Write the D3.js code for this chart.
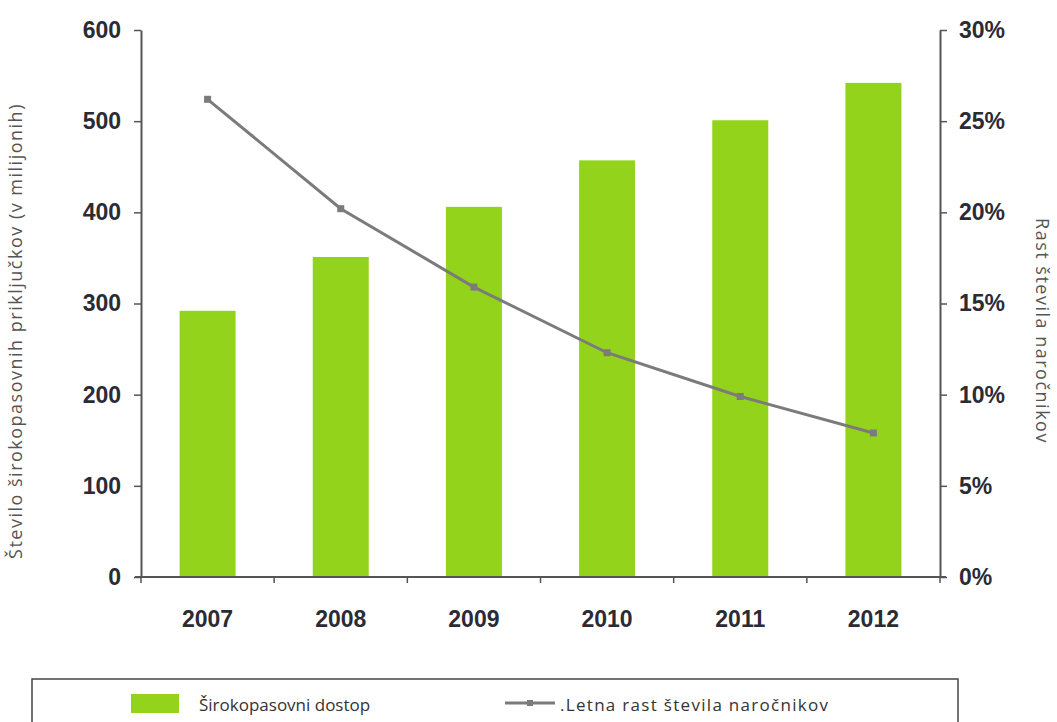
<!DOCTYPE html>
<html>
<head>
<meta charset="utf-8">
<script src="https://cdn.jsdelivr.net/npm/d3@7"></script>
<style>
  body { margin: 0; background: #fff; }
  .tick text { font-family: "Liberation Sans", Arial, sans-serif; font-weight: bold; font-size: 23px; fill: #2b2b36; }
</style>
</head>
<body>
<svg id="chart" width="1057" height="722"></svg>
<script>
const years = ["2007", "2008", "2009", "2010", "2011", "2012"];
const subscribers = [292, 351, 406, 457, 501, 542];
const growth = [26.2, 20.2, 15.9, 12.3, 9.9, 7.9];
const leftTicks = [0, 100, 200, 300, 400, 500, 600];
const rightTicks = [0, 5, 10, 15, 20, 25, 30];

const svg = d3.select("#chart");
const margin = { left: 141, right: 940, top: 30, bottom: 577 };

const xOuter = d3.scaleBand().domain(years).range([margin.left, margin.right]);
const yLeft = d3.scaleLinear().domain([0, 600]).range([margin.bottom, margin.top]);
const yRight = d3.scaleLinear().domain([0, 30]).range([margin.bottom, margin.top]);

// bars
svg.append("g")
  .selectAll("rect")
  .data(years)
  .join("rect")
  .attr("x", (d) => xOuter(d) + (xOuter.bandwidth() - 56) / 2)
  .attr("width", 56)
  .attr("y", (d, i) => yLeft(subscribers[i]))
  .attr("height", (d, i) => yLeft(0) - yLeft(subscribers[i]))
  .attr("fill", "#93d31b");

// axes
const axisColor = "#555";
const styleAxis = (g) => {
  g.select(".domain").attr("stroke", axisColor).attr("stroke-width", 2);
  g.selectAll(".tick line").attr("stroke", axisColor).attr("stroke-width", 1.5);
};

svg.append("g")
  .attr("transform", `translate(${margin.left},0)`)
  .call(d3.axisLeft(yLeft).tickValues(leftTicks).tickSize(7).tickSizeOuter(0).tickPadding(13))
  .call(styleAxis);

svg.append("g")
  .attr("transform", `translate(${margin.right},0)`)
  .call(d3.axisRight(yRight).tickValues(rightTicks).tickSize(7).tickSizeOuter(0).tickPadding(12)
    .tickFormat((d) => d + "%"))
  .call(styleAxis);

const boundaries = years.map((d) => xOuter(d)).concat([margin.right]);
const bottom = svg.append("g").attr("transform", `translate(0,${margin.bottom})`);
bottom.append("line")
  .attr("x1", margin.left - 6).attr("x2", margin.right + 6)
  .attr("stroke", axisColor).attr("stroke-width", 2);
bottom.selectAll("line.tk")
  .data(boundaries)
  .join("line")
  .attr("class", "tk")
  .attr("x1", (d) => d).attr("x2", (d) => d)
  .attr("y1", 0).attr("y2", 6)
  .attr("stroke", axisColor).attr("stroke-width", 1.5);
bottom.selectAll("text")
  .data(years)
  .join("text")
  .attr("x", (d) => xOuter(d) + xOuter.bandwidth() / 2)
  .attr("y", 50)
  .attr("text-anchor", "middle")
  .style("font-family", "'Liberation Sans', Arial, sans-serif")
  .style("font-weight", "bold")
  .style("font-size", "23px")
  .style("fill", "#2b2b36")
  .text((d) => d);

// growth line
const line = d3.line()
  .x((d, i) => xOuter(years[i]) + xOuter.bandwidth() / 2)
  .y((d) => yRight(d));
svg.append("path")
  .datum(growth)
  .attr("d", line)
  .attr("fill", "none")
  .attr("stroke", "#7b7b7b")
  .attr("stroke-width", 3);
svg.append("g")
  .selectAll("rect")
  .data(growth)
  .join("rect")
  .attr("x", (d, i) => xOuter(years[i]) + xOuter.bandwidth() / 2 - 3.5)
  .attr("y", (d) => yRight(d) - 3.5)
  .attr("width", 7)
  .attr("height", 7)
  .attr("fill", "#7b7b7b");

// axis titles
const titleFont = "'Open Sans', 'Noto Sans', sans-serif";
svg.append("text")
  .attr("transform", "translate(22,331) rotate(-90)")
  .attr("text-anchor", "middle")
  .style("font-family", titleFont)
  .style("font-size", "18px")
  .style("letter-spacing", "1.5px")
  .style("fill", "#555")
  .text("Število širokopasovnih priključkov (v milijonih)");
svg.append("text")
  .attr("transform", "translate(1036,331) rotate(90)")
  .attr("text-anchor", "middle")
  .style("font-family", titleFont)
  .style("font-size", "18px")
  .style("letter-spacing", "1.5px")
  .style("fill", "#555")
  .text("Rast števila naročnikov");

// legend
const legend = svg.append("g");
legend.append("rect")
  .attr("x", 32).attr("y", 679).attr("width", 926).attr("height", 60)
  .attr("fill", "none").attr("stroke", "#444").attr("stroke-width", 1.5);
legend.append("rect")
  .attr("x", 131).attr("y", 694).attr("width", 48).attr("height", 19)
  .attr("fill", "#93d31b");
legend.append("text")
  .attr("x", 199).attr("y", 711)
  .style("font-family", titleFont).style("font-size", "17px").style("fill", "#333")
  .text("Širokopasovni dostop");
legend.append("line")
  .attr("x1", 505).attr("x2", 555).attr("y1", 703).attr("y2", 703)
  .attr("stroke", "#7b7b7b").attr("stroke-width", 3);
legend.append("rect")
  .attr("x", 527).attr("y", 700).attr("width", 6).attr("height", 6)
  .attr("fill", "#7b7b7b");
legend.append("text")
  .attr("x", 560).attr("y", 711)
  .style("font-family", titleFont).style("font-size", "17px").style("fill", "#333")
  .style("letter-spacing", "1.3px")
  .text(".Letna rast števila naročnikov");
</script>
</body>
</html>
